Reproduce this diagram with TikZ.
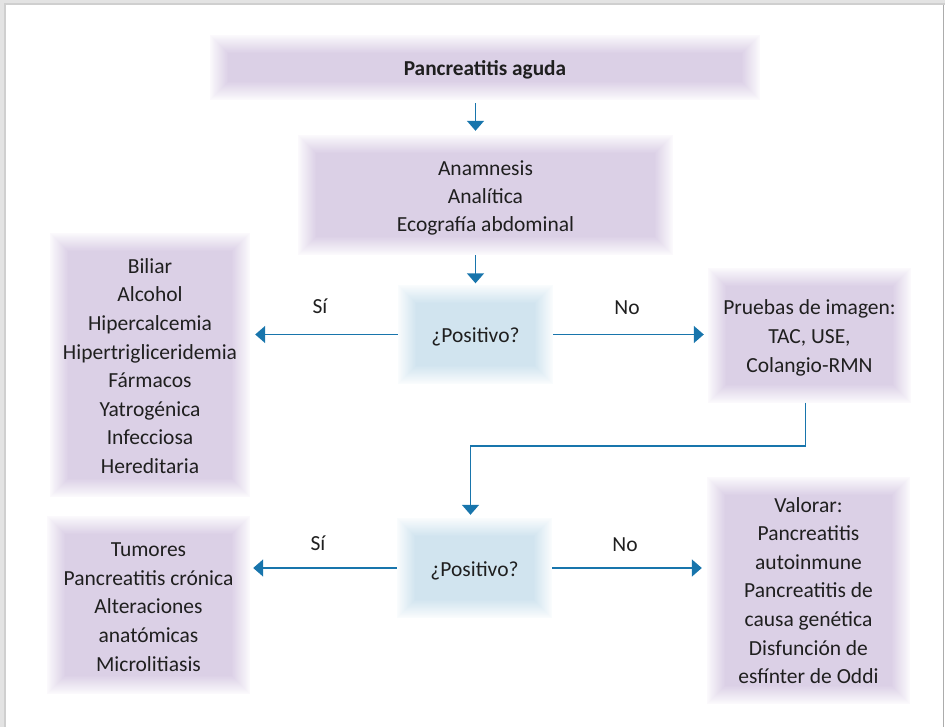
\documentclass[tikz,border=0pt]{standalone}
\usepackage{fontspec}
\setmainfont{Carlito}
\usetikzlibrary{arrows.meta,calc}
\definecolor{purp}{RGB}{219,208,230}
\definecolor{lblue}{RGB}{209,228,239}
\definecolor{arrblue}{RGB}{24,117,172}
\tikzset{
  soft/.style={fill=white, inner sep=0pt, path picture={
    \foreach \k in {0,...,18}{
      \pgfmathsetmacro{\pc}{int(12+88*(\k/18)^0.95)}
      \fill[#1!\pc!white] ([shift={(\k*1pt,-\k*1pt)}]path picture bounding box.north west) rectangle ([shift={(-\k*1pt,\k*1pt)}]path picture bounding box.south east);
    }}},
  pbox/.style={soft=purp},
  dbox/.style={soft=lblue},
  txt/.style={inner sep=0pt, align=center, font=\fontsize{21.5}{28.6}\selectfont, text=black!88},
  lbl/.style={inner sep=0pt, font=\fontsize{21.5}{25}\selectfont, text=black!88},
  conn/.style={draw=arrblue, line width=1.6pt, -{Triangle[width=17pt,length=10pt]}},
}
\begin{document}
\begin{tikzpicture}[x=1pt,y=-1pt]
\useasboundingbox (0,0) rectangle (945,727);
% frame
\fill[gray!22] (0,0) rectangle (945,5);
\fill[gray!22] (0,0) rectangle (6,727);
\fill[gray!38] (4,3) rectangle (945,5);
\fill[gray!38] (4,3) rectangle (6,727);
\draw[gray!65, line width=1pt] (943.5,5) -- (943.5,727);
% boxes
\node[pbox, minimum width=550pt, minimum height=65pt] (t1) at (485,67.5) {};
\node[pbox, minimum width=375pt, minimum height=120pt] (t2) at (485.5,195) {};
\node[dbox, minimum width=155pt, minimum height=98pt] (d1) at (475.5,334.5) {};
\node[pbox, minimum width=200pt, minimum height=264pt] (l1) at (150,365) {};
\node[pbox, minimum width=203pt, minimum height=134pt] (r1) at (809.5,335.5) {};
\node[dbox, minimum width=155pt, minimum height=100pt] (d2) at (474.5,568) {};
\node[pbox, minimum width=203pt, minimum height=178pt] (l2) at (148.5,605) {};
\node[pbox, minimum width=203pt, minimum height=227pt] (r2) at (808.5,590) {};
% texts
\node[txt, font=\fontsize{21.3}{25}\selectfont\bfseries] (t1x) at (485,69.5) {Pancreatitis aguda};
\node[txt, font=\fontsize{21.5}{28}\selectfont] (t2x) at (485.5,197.5) {Anamnesis\\Analítica\\Ecografía abdominal};
\node[txt] (d1x) at (475.5,337) {¿Positivo?};
\node[txt] (l1x) at (150,366) {Biliar\\Alcohol\\Hipercalcemia\\Hipertrigliceridemia\\Fármacos\\Yatrogénica\\Infecciosa\\Hereditaria};
\node[txt, font=\fontsize{21.5}{29}\selectfont] (r1x) at (809.5,338) {Pruebas de imagen:\\TAC, USE,\\Colangio-RMN};
\node[txt] (d2x) at (474.5,570.5) {¿Positivo?};
\node[txt] (l2x) at (148.5,607) {Tumores\\Pancreatitis crónica\\Alteraciones\\anatómicas\\Microlitiasis};
\node[txt] (r2x) at (808.5,590.5) {Valorar:\\Pancreatitis\\autoinmune\\Pancreatitis de\\causa genética\\Disfunción de\\esfínter de Oddi};
% labels
\node[lbl] (si1) at (320,306) {Sí};
\node[lbl] (no1) at (627,308) {No};
\node[lbl] (si2) at (318,543) {Sí};
\node[lbl] (no2) at (625,545) {No};
% connectors
\draw[conn, shorten <=3pt, shorten >=4pt] (t1.south -| d1.north) -- (t2.north -| d1.north);
\draw[conn, shorten >=2pt] (t2.south -| d1.north) -- (d1.north);
\draw[conn, shorten >=5pt] (d1.west) -- (l1.east |- d1.west);
\draw[conn, shorten >=4pt] (d1.east) -- (r1.west |- d1.east);
\draw[conn, shorten >=3pt] (d2.west) -- (l2.east |- d2.west);
\draw[conn, shorten >=5pt] (d2.east) -- (r2.west |- d2.east);
\draw[conn] ([xshift=-4pt]r1.south) -- ++(0,43) -| ([xshift=-4pt,yshift=3pt]d2.north);
\end{tikzpicture}
\end{document}
